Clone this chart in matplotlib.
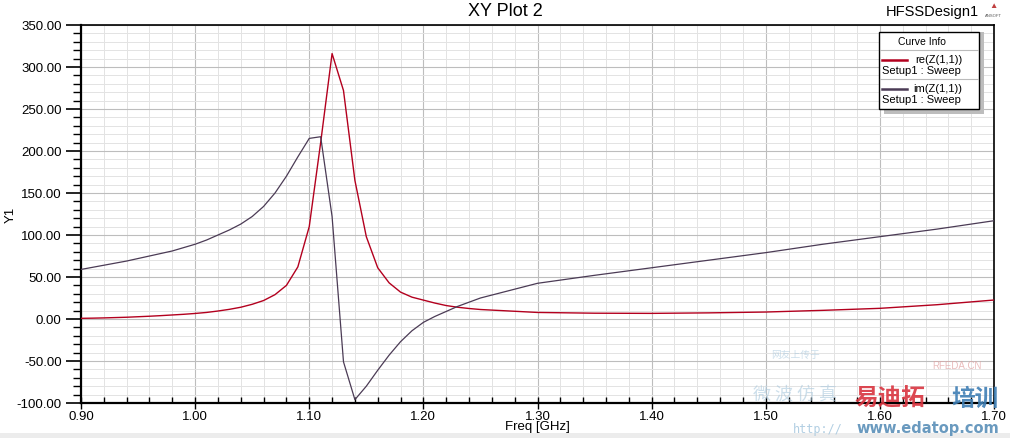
import matplotlib
matplotlib.use("Agg")
import matplotlib.pyplot as plt
from matplotlib.ticker import MultipleLocator, FormatStrFormatter
from matplotlib.patches import Rectangle
from matplotlib.lines import Line2D

plt.rcParams['font.family'] = ['Liberation Sans', 'DejaVu Sans']

# sweep points, GHz
freq = [0.90, 0.91, 0.92, 0.93, 0.94, 0.95, 0.96, 0.97, 0.98, 0.99,
        1.00, 1.01, 1.02, 1.03, 1.04, 1.05, 1.06, 1.07, 1.08, 1.09,
        1.10, 1.11, 1.12, 1.13, 1.14, 1.15, 1.16, 1.17, 1.18, 1.19,
        1.20, 1.21, 1.22, 1.23, 1.24, 1.25, 1.30, 1.35, 1.40, 1.45,
        1.50, 1.55, 1.60, 1.65, 1.70]

re_z11 = [0.8, 1.0, 1.3, 1.7, 2.1, 2.7, 3.3, 4.0, 4.8, 5.6,
          6.6, 7.8, 9.5, 11.5, 14.0, 17.5, 22.0, 29.0, 40.0, 62.0,
          110.0, 210.0, 316.0, 272.0, 165.0, 98.0, 61.0, 43.0, 32.0, 26.0,
          22.5, 19.0, 16.0, 14.0, 12.5, 11.3, 7.8, 6.9, 6.7, 7.3,
          8.3, 10.3, 12.7, 17.0, 22.6]

im_z11 = [59.0, 61.5, 64.0, 66.5, 69.0, 72.0, 75.0, 78.0, 81.0, 85.0,
          89.0, 94.0, 100.0, 106.0, 113.0, 122.0, 134.0, 150.0, 170.0, 193.0,
          215.0, 217.0, 122.0, -51.0, -96.0, -80.0, -61.0, -43.0, -27.0, -14.0,
          -4.0, 3.0, 9.0, 15.0, 20.0, 25.0, 42.5, 52.0, 61.0, 70.0,
          79.0, 89.0, 98.0, 107.0, 117.0]

W, H = 1010, 438
fig = plt.figure(figsize=(W / 100, H / 100), dpi=100)
ax = fig.add_axes([81 / W, 1 - 403 / H, (994 - 81) / W, (403 - 25) / H])

ax.plot(freq, re_z11, color='#b3001e', lw=1.0, zorder=3)
ax.plot(freq, im_z11, color='#4b3b55', lw=0.9, zorder=3)

ax.set_xlim(0.90, 1.70)
ax.set_ylim(-100, 350)
ax.xaxis.set_major_locator(MultipleLocator(0.1))
ax.xaxis.set_minor_locator(MultipleLocator(0.02))
ax.yaxis.set_major_locator(MultipleLocator(50))
ax.yaxis.set_minor_locator(MultipleLocator(10))
ax.xaxis.set_major_formatter(FormatStrFormatter('%.2f'))
ax.yaxis.set_major_formatter(FormatStrFormatter('%.2f'))

ax.grid(which='major', color='#bdbdbd', lw=0.8)
ax.grid(which='minor', color='#e3e3e3', lw=0.7)
ax.set_axisbelow(True)

for s in ax.spines.values():
    s.set_linewidth(1.2)
ax.spines['left'].set_linewidth(1.6)
ax.spines['bottom'].set_linewidth(1.6)

ax.tick_params(axis='y', which='major', direction='out', length=11, width=1.2,
               labelsize=9.5, pad=3)
ax.tick_params(axis='y', which='minor', direction='out', length=6, width=1.0)
ax.tick_params(axis='x', which='major', direction='inout', length=9, width=1.0,
               labelsize=9.5, pad=1)
ax.tick_params(axis='x', which='minor', direction='in', length=4, width=1.0)

ax.set_xlabel('Freq [GHz]', fontsize=9.5, labelpad=-1)
ax.set_ylabel('Y1', fontsize=9.5)
ax.yaxis.set_label_coords((17 - 81) / 913, (403 - 215) / 378)

fig.text(0.5, 1 - 11 / H, 'XY Plot 2', ha='center', va='center', fontsize=13)
fig.text(932 / W, 1 - 12 / H, 'HFSSDesign1', ha='center', va='center', fontsize=10.5)
fig.text(993 / W, 1 - 16 / H, 'ANSOFT', ha='center', va='center', fontsize=3, color='#555555')
fig.text(993 / W, 1 - 7 / H, '\u25B2', ha='center', va='center', fontsize=6, color='#c04040')

# curve info box
def fx(px):
    return px / W

def fy(py):
    return 1 - py / H

fig.patches.append(Rectangle((fx(884), fy(114)), fx(100), 82 / H, transform=fig.transFigure,
                             facecolor='#bdbdbd', edgecolor='none', zorder=5))
fig.patches.append(Rectangle((fx(879), fy(109)), fx(100), 77 / H, transform=fig.transFigure,
                             facecolor='white', edgecolor='black', lw=1.0, zorder=6))
fig.text(fx(922), fy(42), 'Curve Info', ha='center', va='center', fontsize=7.5, zorder=7)
for py in (50, 79):
    fig.lines.append(Line2D([fx(880), fx(978)], [fy(py), fy(py)], transform=fig.transFigure,
                            color='#bbbbbb', lw=0.8, zorder=7))
entries = [('re(Z(1,1))', '#b3001e', 60), ('im(Z(1,1))', '#4b3b55', 89)]
for name, col, py in entries:
    fig.lines.append(Line2D([fx(882), fx(907)], [fy(py), fy(py)], transform=fig.transFigure,
                            color=col, lw=1.8, zorder=7))
    fig.text(fx(962), fy(py), name, ha='right', va='center', fontsize=8, zorder=7)
    fig.text(fx(882), fy(py + 11), 'Setup1 : Sweep', ha='left', va='center', fontsize=8, zorder=7)

# bottom strip
fig.patches.append(Rectangle((0, 0), 1, 5 / H, transform=fig.transFigure,
                             facecolor='#ececec', edgecolor='none', zorder=-5))

# watermark
cjk = ['Noto Sans CJK SC', 'DejaVu Sans']
fig.text(fx(795), fy(396), '微 波 仿 真', family=cjk, fontsize=13, color='#a9c8dd',
         alpha=0.6, ha='center', va='center', zorder=8)
fig.text(fx(795), fy(355), '网友上传于', family=cjk, fontsize=7, color='#a9c8dd',
         alpha=0.6, ha='center', va='center', zorder=8)
fig.text(fx(957), fy(366), 'RFEDA.CN', fontsize=7, color='#e0a0a0',
         alpha=0.7, ha='center', va='center', zorder=8)
fig.text(fx(890), fy(399), '易迪拓', family=cjk, fontsize=17, weight='bold', color='#d9343f',
         alpha=0.9, ha='center', va='center', zorder=9)
fig.text(fx(975), fy(399), '培训', family=cjk, fontsize=17, weight='bold', color='#3f7fb5',
         alpha=0.9, ha='center', va='center', zorder=9)
fig.text(fx(818), fy(429), 'http://', family='DejaVu Sans Mono', fontsize=8.5, color='#9fc3dc',
         alpha=0.8, ha='center', va='center', zorder=8)
fig.text(fx(928), fy(429), 'www.edatop.com', family='DejaVu Sans', fontsize=10.5, weight='bold',
         color='#5a8fb8', alpha=0.9, ha='center', va='center', zorder=9)

fig.savefig('out.png', dpi=100, facecolor='white')
